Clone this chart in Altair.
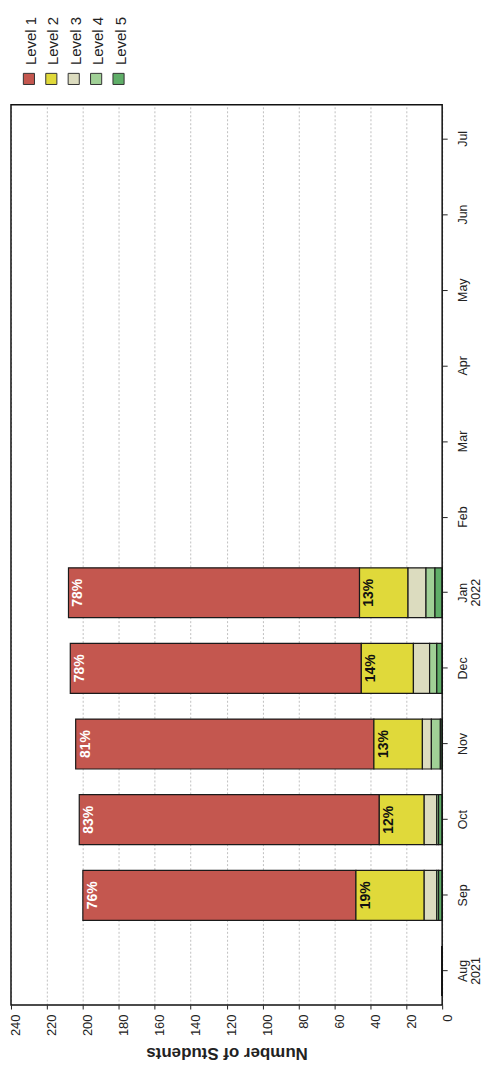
import altair as alt
import pandas as pd

# ---- data ----
months = ["Aug 2021", "Sep", "Oct", "Nov", "Dec", "Jan 2022",
          "Feb", "Mar", "Apr", "May", "Jun", "Jul"]
data_months = ["Aug 2021", "Sep", "Oct", "Nov", "Dec", "Jan 2022"]
levels = ["Level 1", "Level 2", "Level 3", "Level 4", "Level 5"]
level1 = [0, 152, 167, 166, 162, 162]
level2 = [0, 38, 25, 27, 29, 27]
level3 = [0, 7, 7, 5, 9, 10]
level4 = [0, 1, 1, 5, 4, 5]
level5 = [0, 2, 2, 1, 3, 4]
ticks = [0, 20, 40, 60, 80, 100, 120, 140, 160, 180, 200, 220, 240]
colors = ["#c4574f", "#e0d93a", "#dcdcbf", "#a0d096", "#5fae68"]

series = [level1, level2, level3, level4, level5]
rows = []
for li, (lvl, vals) in enumerate(zip(levels, series)):
    for m, v in zip(data_months, vals):
        rows.append({"month": m, "level": lvl, "lvl": li + 1, "count": v})
df = pd.DataFrame(rows)
leg_df = pd.DataFrame({"level": levels})
frame_df = pd.DataFrame({"k": [0]})

FONT = "Liberation Sans, Arial, sans-serif"

color_scale = alt.Scale(domain=levels, range=colors)
y_scale = alt.Scale(domain=list(reversed(months)), paddingInner=0.34, paddingOuter=0.12)
x_scale = alt.Scale(domain=[0, 240], reverse=True, nice=False)

x_axis = alt.Axis(values=ticks, title="Number of Students", titleAngle=180,
                  titleBaseline="bottom", titleFontSize=17, titleFont=FONT,
                  titleFontWeight="bold", titleColor="#222", titlePadding=8,
                  labelAngle=270, labelAlign="right", labelBaseline="middle",
                  labelOffset=5, labelFontSize=13, labelFont=FONT,
                  labelColor="#222", tickSize=4, labelPadding=5,
                  tickColor="#222", grid=True, gridDash=[2, 2],
                  gridColor="#c0c0c0", domain=False)

bars = alt.Chart(df).mark_bar(stroke="#1a1a1a", strokeWidth=1.2).encode(
    y=alt.Y("month:N", scale=y_scale, title=None,
            axis=alt.Axis(orient="right", labelAngle=270, labelAlign="center",
                          labelBaseline="top", labelExpr="split(datum.label, ' ')",
                          labelFontSize=12.5, labelLineHeight=13, tickSize=5,
                          labelPadding=9, grid=False, domain=False,
                          tickColor="#222", labelColor="#222", labelFont=FONT)),
    x=alt.X("count:Q", stack="zero", scale=x_scale, axis=x_axis),
    color=alt.Color("level:N", scale=color_scale, legend=None),
    order=alt.Order("lvl:Q", sort="descending"),
)

labels = alt.Chart(df).transform_stack(
    stack="count", groupby=["month"], as_=["s0", "s1"],
    sort=[alt.SortField("lvl", order="descending")],
).transform_joinaggregate(
    total="sum(count)", groupby=["month"]
).transform_filter(
    "datum.lvl <= 2 && datum.total > 0"
).transform_calculate(
    pct="datum.count / datum.total"
).mark_text(angle=270, align="center", baseline="top", dy=3,
            fontWeight="bold", fontSize=14, font=FONT).encode(
    y=alt.Y("month:N", scale=y_scale),
    x=alt.X("s1:Q", scale=x_scale, axis=x_axis),
    text=alt.Text("pct:Q", format=".0%"),
    color=alt.condition("datum.lvl == 1", alt.value("white"), alt.value("#111")),
)

plot = alt.layer(bars, labels)

# plot frame
frame = alt.Chart(frame_df).mark_rect(filled=False, stroke="#111", strokeWidth=1.5).encode(
    x=alt.value(0), x2=alt.value("width"), y=alt.value(0), y2=alt.value("height"),
)

# legend drawn above the plot area, with its own point scale
leg_x = alt.X("level:N", scale=alt.Scale(type="point", domain=levels, range=[18, 108], padding=0),
              axis=None)
leg_sq = alt.Chart(leg_df).mark_square(size=125, stroke="#333", strokeWidth=1, opacity=1).encode(
    x=leg_x, y=alt.value(-26),
    color=alt.Color("level:N", scale=color_scale, legend=None),
)
leg_txt = alt.Chart(leg_df).mark_text(angle=270, align="left", baseline="middle",
                                      fontSize=15, font=FONT, color="#222", dy=2).encode(
    x=leg_x, y=alt.value(-40), text="level:N",
)
legend = alt.layer(leg_sq, leg_txt)

chart = alt.layer(plot, frame, legend).resolve_scale(x="independent").properties(
    width=433, height=904,
    padding={"left": 2, "top": 6, "right": 0, "bottom": 0},
    background="white",
    view=alt.ViewBackground(stroke="transparent"),
)

chart.save("out.html", embed_options={"renderer": "svg", "actions": False})
